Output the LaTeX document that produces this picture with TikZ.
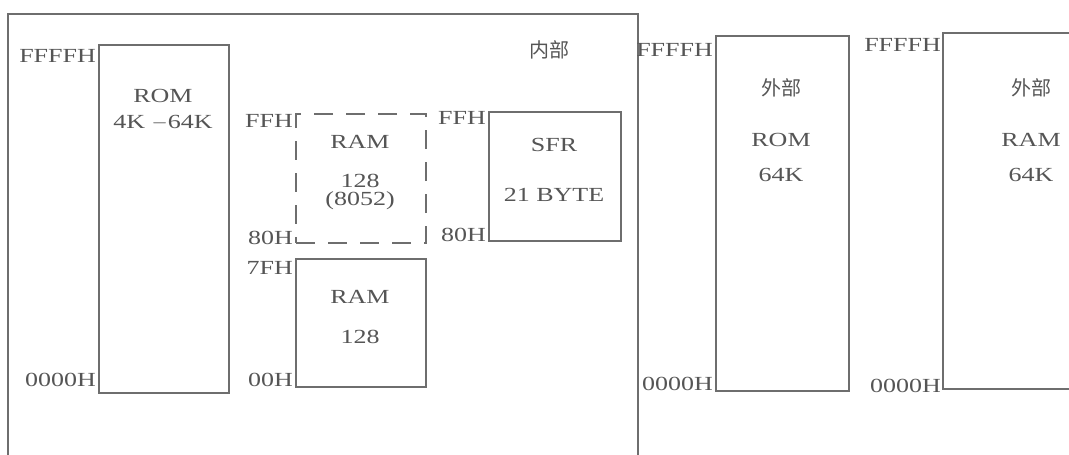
\documentclass[tikz,border=0pt]{standalone}
\usepackage{fontspec}
\setmainfont{Liberation Serif}[FakeStretch=1.3]
\newfontfamily\cjk{Noto Sans CJK SC}
\definecolor{ink}{HTML}{6E6E6E}
\definecolor{txt}{HTML}{555555}
\begin{document}
\begin{tikzpicture}[x=1pt,y=-1pt,
  line width=2.2pt, draw=ink,
  box/.style={draw=ink, line width=2.2pt, inner sep=0pt, anchor=north west},
  dbox/.style={box, dashed, dash pattern=on 19pt off 13pt},
  lbl/.style={text=txt, font=\fontsize{20}{20}\selectfont, inner sep=1pt},
  addr/.style={lbl, anchor=east},
  cj/.style={text=txt, font=\cjk\fontsize{20}{22}\selectfont, inner sep=0pt}]
\useasboundingbox (0,0) rectangle (1069,455);
% outer (internal) frame, open at the bottom
\draw[ink] (8,470) -- (8,14) -- (638,14) -- (638,470);
\node[cj] (nei) at (549,50) {内部};
% internal ROM
\node[box, minimum width=130pt, minimum height=348pt] (rom) at (98,44) {};
\node[lbl] (romt) at (163,96) {ROM};
\node[lbl] (roms) at (163,123) {4K $-$64K};
\node[addr] (romhi) at ([yshift=-12pt]rom.north west) {FFFFH};
\node[addr] (romlo) at ([yshift=14pt]rom.south west) {0000H};
% dashed RAM (8052)
\node[dbox, minimum width=130pt, minimum height=129pt] (ramh) at (295,113) {};
\node[lbl] (ramht) at (360,142) {RAM};
\node[lbl] (ramhs) at (360,181) {128};
\node[lbl] (ramhc) at (360,201) {(8052)};
\node[addr] (ramhhi) at ([yshift=-8pt]ramh.north west) {FFH};
\node[addr] (ramhlo) at ([yshift=6pt]ramh.south west) {80H};
% SFR
\node[box, minimum width=132pt, minimum height=129pt] (sfr) at (488,111) {};
\node[lbl] (sfrt) at (554,145) {SFR};
\node[lbl] (sfrs) at (554,195) {21 BYTE};
\node[addr] (sfrhi) at ([yshift=-7pt]sfr.north west) {FFH};
\node[addr] (sfrlo) at ([yshift=7pt]sfr.south west) {80H};
% lower RAM
\node[box, minimum width=130pt, minimum height=128pt] (raml) at (295,258) {};
\node[lbl] (ramlt) at (360,297) {RAM};
\node[lbl] (ramls) at (360,337) {128};
\node[addr] (ramlhi) at ([yshift=-10pt]raml.north west) {7FH};
\node[addr] (ramllo) at ([yshift=8pt]raml.south west) {00H};
% external ROM
\node[box, minimum width=133pt, minimum height=355pt] (xrom) at (715,35) {};
\node[cj] (xromc) at (781,88) {外部};
\node[lbl] (xromt) at (781,140) {ROM};
\node[lbl] (xroms) at (781,175) {64K};
\node[addr] (xromhi) at ([yshift=-15pt]xrom.north west) {FFFFH};
\node[addr] (xromlo) at ([yshift=8pt]xrom.south west) {0000H};
% external RAM, open on the right
\coordinate (xramtl) at (943,33);
\coordinate (xrambl) at (943,389);
\draw[ink] (1080,33) -- (xramtl) -- (xrambl) -- (1080,389);
\node[cj] (xramc) at (1031,88) {外部};
\node[lbl] (xramt) at (1031,140) {RAM};
\node[lbl] (xrams) at (1031,175) {64K};
\node[addr] (xramhi) at ([yshift=-12pt]xramtl) {FFFFH};
\node[addr] (xramlo) at ([yshift=3pt]xrambl) {0000H};
\end{tikzpicture}
\end{document}
